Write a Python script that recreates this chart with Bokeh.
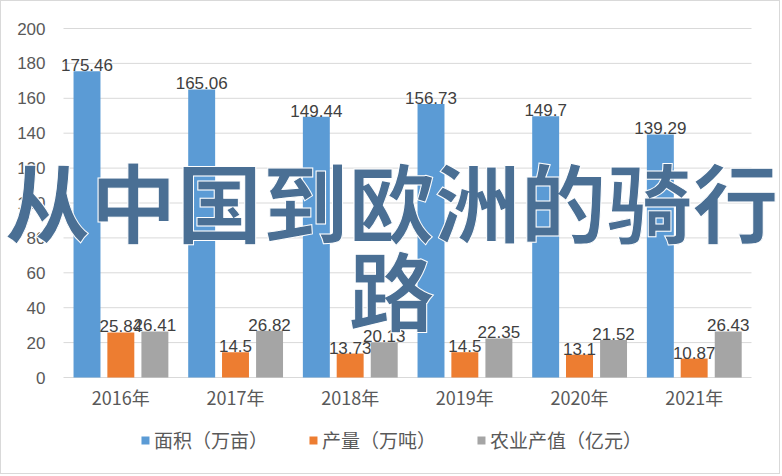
from bokeh.plotting import figure
from bokeh.models import ColumnDataSource, Legend, LegendItem, Label, Range1d
from bokeh.transform import dodge
from bokeh.core.properties import value
from bokeh.embed import file_html
from bokeh.resources import INLINE

years = ["2016年", "2017年", "2018年", "2019年", "2020年", "2021年"]
area = [175.46, 165.06, 149.44, 156.73, 149.7, 139.29]
output = [25.84, 14.5, 13.73, 14.5, 13.1, 10.87]
agri = [26.41, 26.82, 20.13, 22.35, 21.52, 26.43]
series_names = ["面积（万亩）", "产量（万吨）", "农业产值（亿元）"]
colors = ["#5b9bd5", "#ed7d31", "#a5a5a5"]
y_ticks = [0, 20, 40, 60, 80, 100, 120, 140, 160, 180, 200]
title_lines = ["从中国到欧洲的骑行", "路"]

# category centres (index based)
xs = [i + 0.5 for i in range(len(years))]

src = ColumnDataSource(dict(
    x=xs, years=years, zero=[0] * len(years), area=area, output=output, agri=agri,
    area_t=[f"{v:g}" for v in area],
    output_t=[f"{v:g}" for v in output],
    agri_t=[f"{v:g}" for v in agri],
))

# layout constants (pixels, inside the 1px border)
W, H = 780, 474
LEFT, RIGHT = 62, 750            # category band
TOP, BOT = 27, 376               # y=200 and y=0
U = (RIGHT - LEFT) / len(years)  # px per category
S = (BOT - TOP) / 200            # px per unit

p = figure(width=W, height=H,
           x_range=Range1d(-LEFT / U, (W - LEFT) / U),
           y_range=Range1d(-(H - BOT) / S, 200 + TOP / S),
           output_backend="svg", toolbar_location=None, min_border=0,
           x_axis_location=None, y_axis_location=None)
p.styles = {"border": "1px solid #d9d9d9"}
p.outline_line_color = None
p.background_fill_color = "white"
p.border_fill_color = "white"
p.xgrid.grid_line_color = None
p.ygrid.grid_line_color = None

# horizontal gridlines across the category band + y tick labels
gsrc = ColumnDataSource(dict(y=y_ticks, x0=[0] * len(y_ticks), x1=[len(years)] * len(y_ticks),
                             t=[str(v) for v in y_ticks]))
p.segment(x0="x0", x1="x1", y0="y", y1="y", source=gsrc, line_color="#d9d9d9", line_width=1)
p.text(x="x0", y="y", text="t", source=gsrc, x_offset=-18, text_align="right",
       text_baseline="middle", text_font=value("Liberation Sans"), text_font_size="17px",
       text_color="#595959")

# category labels
p.text(x="x", y="zero", text="years", source=src, y_offset=19, text_align="center",
       text_baseline="middle", text_font=value("Noto Sans CJK SC"), text_font_size="18px",
       text_color="#595959")

cols = ["area", "output", "agri"]
offs = [-0.295, 0.0, 0.297]
renderers = []
for c, o, col in zip(cols, offs, colors):
    r = p.vbar(x=dodge("x", o), top=c, width=0.235, source=src,
               fill_color=col, line_color=None)
    renderers.append(r)
    p.text(x=dodge("x", o), y=c, text=c + "_t", source=src,
           text_align="center", text_baseline="alphabetic", y_offset=-6,
           text_font=value("Liberation Sans"), text_font_size="17px", text_color="#404040")

legend = Legend(items=[LegendItem(label=n, renderers=[r]) for n, r in zip(series_names, renderers)],
                orientation="horizontal", location="bottom", glyph_width=10, glyph_height=10,
                label_text_font="Noto Sans CJK SC", label_text_font_size="19px",
                label_text_color="#595959", spacing=40, border_line_color=None,
                background_fill_alpha=0, label_standoff=4, padding=0, margin=22)
p.add_layout(legend, "center")

cx = (W / 2 - LEFT) / U
for t, ypx in zip(title_lines, [198, 286]):
    p.add_layout(Label(x=cx, y=(BOT - ypx) / S, text=t, text_align="center", text_baseline="middle",
                       text_font="Noto Sans CJK SC", text_font_style="bold", text_font_size="86px",
                       text_color="#4a6f94", text_outline_color="white"))

open("out.html", "w").write(file_html(p, INLINE))
